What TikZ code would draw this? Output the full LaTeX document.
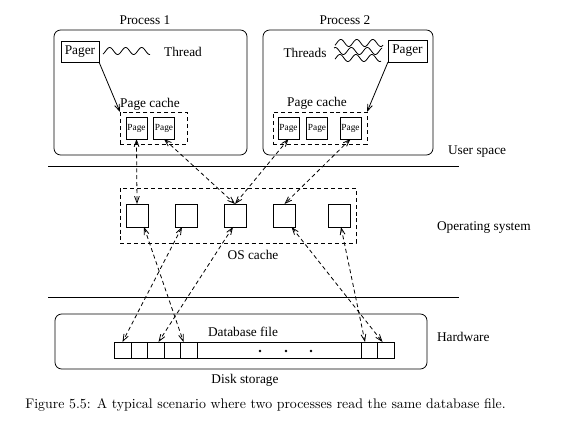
\documentclass[tikz,border=0pt]{standalone}
\usepackage{fontspec}
\newfontfamily\tms{Liberation Serif}
\usetikzlibrary{arrows.meta,calc}
\begin{document}
\begin{tikzpicture}[x=0.75pt,y=-0.75pt,
  every node/.style={inner sep=0pt, outer sep=0pt},
  lbl/.style={font=\tms\fontsize{10}{12}\selectfont},
  box/.style={draw, line width=0.6pt},
  rbox/.style={draw, line width=0.6pt, rounded corners=5pt},
  dbox/.style={draw, line width=0.6pt, dash pattern=on 3pt off 2.2pt},
  pagebox/.style={draw, line width=0.6pt, minimum width={21*0.75pt}, minimum height={22*0.75pt}, font=\tms\fontsize{7}{8}\selectfont},
  osbox/.style={draw, line width=0.6pt, minimum width={22*0.75pt}, minimum height={23*0.75pt}},
  cell/.style={draw, line width=0.6pt, minimum height={16*0.75pt}},
  link/.style={line width=0.6pt, dash pattern=on 3pt off 2.2pt, {Straight Barb[length=5pt,width=3.6pt]}-{Straight Barb[length=5pt,width=3.6pt]}},
  plink/.style={line width=0.6pt, -{Straight Barb[length=5pt,width=3.6pt]}},
  sep/.style={line width=0.6pt}
]
\useasboundingbox (0,0) rectangle (566,448);

% Process 1
\node[lbl] (t1) at (145,20) {Process 1};
\node[rbox, minimum width={193*0.75pt}, minimum height={125*0.75pt}] (proc1) at (150.5,92.5) {};
\node[box, lbl, minimum width={38*0.75pt}, minimum height={21*0.75pt}] (pager1) at (80,51.5) {Pager};
\draw[line width=0.6pt] plot[domain=0:47, samples=80] ({103+\x}, {51 - 3.5*sin(\x*22.5 - 60)});
\node[lbl] (th1) at (183,52) {Thread};
\node[lbl] (pcl1) at (150,104) {Page cache};
\node[dbox, minimum width={67*0.75pt}, minimum height={32*0.75pt}] (pc1) at (153.5,128) {};
\node[pagebox] (p1a) at (136.5,128) {Page};
\node[pagebox] (p1b) at (164,128) {Page};
\draw[plink] (pager1.south east) -- (pc1.north west);

% Process 2
\node[lbl] (t2) at (345,20) {Process 2};
\node[rbox, minimum width={170*0.75pt}, minimum height={125*0.75pt}] (proc2) at (348,92.5) {};
\node[box, lbl, minimum width={39*0.75pt}, minimum height={22*0.75pt}] (pager2) at (407.5,51) {Pager};
\node[lbl] (th2) at (305,53) {Threads};
\draw[line width=0.6pt] plot[domain=0:48, samples=80] ({335+\x}, {43 - 3.5*sin(\x*22.5 - 40)});
\draw[line width=0.6pt] plot[domain=0:48, samples=80] ({334+\x}, {51 - 3.5*sin(\x*22.5 + 60)});
\draw[line width=0.6pt] plot[domain=0:46, samples=80] ({335+\x}, {58 - 3.5*sin(\x*22.5 - 20)});
\node[lbl] (pcl2) at (317,103) {Page cache};
\node[dbox, minimum width={94*0.75pt}, minimum height={32*0.75pt}] (pc2) at (320,128) {};
\node[pagebox] (p2a) at (288.5,128) {Page};
\node[pagebox] (p2b) at (317,128) {Page};
\node[pagebox] (p2c) at (350.5,128) {Page};
\draw[plink] (pager2.south west) -- (pc2.north east);

\node[lbl, anchor=west] (us) at (448,152) {User space};
\coordinate (l1a) at (48,166); \coordinate (l1b) at (459,166);
\draw[sep] (l1a) -- (l1b);

% OS
\node[dbox, minimum width={236*0.75pt}, minimum height={55*0.75pt}] (osc) at (238,215.5) {};
\node[osbox] (os1) at (137,215.5) {};
\node[osbox] (os2) at (186,215.5) {};
\node[osbox] (os3) at (235,215.5) {};
\node[osbox] (os4) at (284.5,215.5) {};
\node[osbox] (os5) at (339,215.5) {};
\node[lbl] (oscl) at (253,255) {OS cache};
\node[lbl, anchor=west] (osl) at (437,228) {Operating system};

\coordinate (l2a) at (48,297); \coordinate (l2b) at (459,297);
\draw[sep] (l2a) -- (l2b);

% Hardware
\node[rbox, minimum width={372*0.75pt}, minimum height={55*0.75pt}] (disk) at (241,341.5) {};
\node[lbl, anchor=west] (hw) at (437,337) {Hardware};
\node[lbl] (dbf) at (243,332) {Database file};
\node[cell, minimum width={17*0.75pt}] (c1) at (122.5,350) {};
\node[cell, minimum width={16*0.75pt}] (c2) at (139,350) {};
\node[cell, minimum width={17*0.75pt}] (c3) at (155.5,350) {};
\node[cell, minimum width={16*0.75pt}] (c4) at (172,350) {};
\node[cell, minimum width={17*0.75pt}] (c5) at (188.5,350) {};
\node[cell, minimum width={164*0.75pt}] (cbig) at (279,350) {};
\node[cell, minimum width={16*0.75pt}] (c8) at (369,350) {};
\node[cell, minimum width={17*0.75pt}] (c9) at (385.5,350) {};
\node[circle, fill, minimum size=2.2pt] (d1) at (260,351) {};
\node[circle, fill, minimum size=2.2pt] (d2) at (286,351) {};
\node[circle, fill, minimum size=2.2pt] (d3) at (311,351) {};
\node[lbl] (dsk) at (245,380) {Disk storage};

% links user space <-> OS
\draw[link] (p1a.south) -- (os1.north);
\draw[link] (p1b.south) -- (os3.north);
\draw[link] (p2a.south) -- (os3.north);
\draw[link] (p2c.south) -- (os4.north);

% links OS <-> disk
\draw[link] ($(os1.south)+(7,0)$) -- ($(c5.north)+(-5,0)$);
\draw[link] ($(os2.south)+(-4,0)$) -- (c1.north);
\draw[link] ($(os3.south)+(-2,0)$) -- ($(c3.north)+(3,0)$);
\draw[link] ($(os4.south)+(7,0)$) -- ($(c9.north)+(-3,0)$);
\draw[link] ($(os5.south)+(2,0)$) -- ($(c8.north)+(-4,0)$);

% caption
\node[font=\fontsize{10.4}{12}\selectfont] (cap) at (265.5,405) {Figure 5.5: A typical scenario where two processes read the same database file.};
\end{tikzpicture}
\end{document}
